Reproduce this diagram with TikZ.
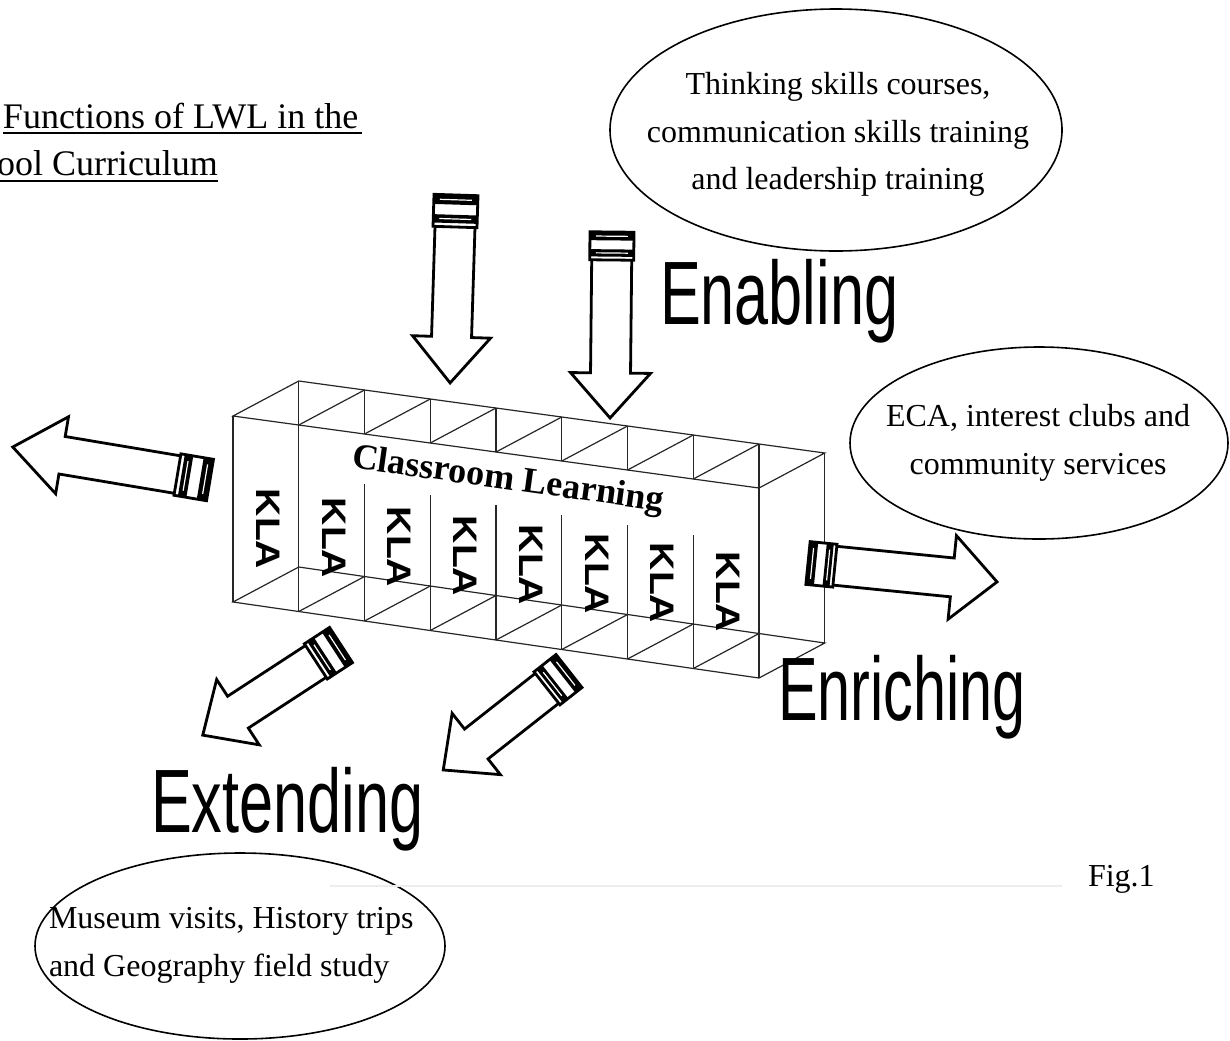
\documentclass[tikz,border=0pt]{standalone}
\usepackage{fontspec}
\usepackage{graphicx}
\usetikzlibrary{shapes.geometric}
\setmainfont{Liberation Serif}
\newfontfamily\headfont{Liberation Sans}

% block arrow: {tail}{angle}{length}{shaft half width}{head half width}{head length}{cap length}
\newcommand{\blockarrow}[7]{%
\begin{scope}[shift={#1}, rotate=#2]
\draw [arrowline] (#7,#4) -- (#3-#6,#4) -- (#3-#6,#5) -- (#3,0) -- (#3-#6,-#5) -- (#3-#6,-#4) -- (#7,-#4);
\draw [arrowline] (0,-#4-2) rectangle (#7,#4+2);
\fill (0,-#4-2) rectangle (0.3*#7,#4+2);
\fill (0.62*#7,-#4-2) rectangle (0.88*#7,#4+2);
\draw [white, line width=0.6pt] (0.15*#7,-#4+4) -- (0.15*#7,#4-4);
\draw [white, line width=0.6pt] (0.75*#7,-#4+4) -- (0.75*#7,#4-4);
\end{scope}}

\begin{document}
\begin{tikzpicture}[x=0.5pt,y=-0.5pt]
\tikzset{ inner sep=0pt, outer sep=0pt,
  boxline/.style={black!85, line width=0.6pt},
  arrowline/.style={line width=1.4pt, fill=white},
  bubble/.style={draw, ellipse, line width=0.8pt},
  bubbletext/.style={align=center, font=\fontsize{16}{23.75}\selectfont},
  heading/.style={anchor=base west, font=\headfont\fontsize{45}{45}\selectfont},
  kla/.style={rotate=-90, font=\headfont\bfseries\fontsize{17}{17}\selectfont},
  uline/.style={line width=1.2pt},
}
\useasboundingbox (0,0) rectangle (1230,1040);
\clip (0,0) rectangle (1230,1040);
%\draw [lightgray, dashed] (0,0) grid[step=100] (1230,1040);

% box corners: F front top, B back top, G front bottom, H back bottom
\coordinate (F0) at (233,416);
\coordinate (F1) at (298.75,425);
\coordinate (F2) at (364.5,434);
\coordinate (F3) at (430.25,443);
\coordinate (F4) at (496,452);
\coordinate (F5) at (561.75,461);
\coordinate (F6) at (627.5,470);
\coordinate (F7) at (693.25,479);
\coordinate (F8) at (759,488);

\coordinate (B0) at (298.75,381);
\coordinate (B1) at (364.5,390);
\coordinate (B2) at (430.25,399);
\coordinate (B3) at (496,408);
\coordinate (B4) at (561.75,417);
\coordinate (B5) at (627.5,426);
\coordinate (B6) at (693.25,435);
\coordinate (B7) at (759,444);
\coordinate (B8) at (824.75,453);

\coordinate (G0) at (233,602);
\coordinate (G1) at (298.75,611.5);
\coordinate (G2) at (364.5,621);
\coordinate (G3) at (430.25,630.5);
\coordinate (G4) at (496,640);
\coordinate (G5) at (561.75,649.5);
\coordinate (G6) at (627.5,659);
\coordinate (G7) at (693.25,668.5);
\coordinate (G8) at (759,678);

\coordinate (H0) at (298.75,567);
\coordinate (H1) at (364.5,576.5);
\coordinate (H2) at (430.25,586);
\coordinate (H3) at (496,595.5);
\coordinate (H4) at (561.75,605);
\coordinate (H5) at (627.5,614.5);
\coordinate (H6) at (693.25,624);
\coordinate (H7) at (759,633.5);
\coordinate (H8) at (824.75,643);

% dividers start again under the label
\coordinate (S2) at (364.5,484);
\coordinate (S3) at (430.25,495);
\coordinate (S4) at (496,505);
\coordinate (S5) at (561.75,515);
\coordinate (S6) at (627.5,525);
\coordinate (S7) at (693.25,535);

% top face
\draw [boxline] (F0) -- (F8) -- (B8) -- (B0) -- cycle;
\draw [boxline] (F1) -- (B1);
\draw [boxline] (F2) -- (B2);
\draw [boxline] (F3) -- (B3);
\draw [boxline] (F4) -- (B4);
\draw [boxline] (F5) -- (B5);
\draw [boxline] (F6) -- (B6);
\draw [boxline] (F7) -- (B7);

% bottom face
\draw [boxline] (G0) -- (G8) -- (H8) -- (H0) -- cycle;
\draw [boxline] (G1) -- (H1);
\draw [boxline] (G2) -- (H2);
\draw [boxline] (G3) -- (H3);
\draw [boxline] (G4) -- (H4);
\draw [boxline] (G5) -- (H5);
\draw [boxline] (G6) -- (H6);
\draw [boxline] (G7) -- (H7);

% uprights
\draw [boxline] (F0) -- (G0);
\draw [boxline] (B0) -- (G1);
\draw [boxline] (B1) -- (F2);  \draw [boxline] (S2) -- (G2);
\draw [boxline] (B2) -- (F3);  \draw [boxline] (S3) -- (G3);
\draw [boxline] (B3) -- (F4);  \draw [boxline] (S4) -- (G4);
\draw [boxline] (B4) -- (F5);  \draw [boxline] (S5) -- (G5);
\draw [boxline] (B5) -- (F6);  \draw [boxline] (S6) -- (G6);
\draw [boxline] (B6) -- (F7);  \draw [boxline] (S7) -- (G7);
\draw [boxline] (B7) -- (G8);
\draw [boxline] (B8) -- (H8);

\node [font=\bfseries\fontsize{18}{18}\selectfont, rotate=-8] (CL) at (508,481) {Classroom Learning};

\node [kla] (K1) at (268,529) {\scalebox{1.15}[1]{KLA}};
\node [kla] (K2) at (333.75,538) {\scalebox{1.15}[1]{KLA}};
\node [kla] (K3) at (399.5,547) {\scalebox{1.15}[1]{KLA}};
\node [kla] (K4) at (465.25,556) {\scalebox{1.15}[1]{KLA}};
\node [kla] (K5) at (531,565) {\scalebox{1.15}[1]{KLA}};
\node [kla] (K6) at (596.75,574) {\scalebox{1.15}[1]{KLA}};
\node [kla] (K7) at (662.5,583) {\scalebox{1.15}[1]{KLA}};
\node [kla] (K8) at (728.25,592) {\scalebox{1.15}[1]{KLA}};

% arrows
\blockarrow{(456,195)}{-91.8}{188}{20}{39}{46}{32}
\blockarrow{(612,232)}{-90.6}{186}{20}{40}{45}{28}
\blockarrow{(210,480)}{170.5}{200}{19}{39}{50}{33}
\blockarrow{(808,563)}{-5.7}{190}{19.5}{42}{45}{27}
\blockarrow{(341,645)}{-146.9}{165}{19}{39}{42}{30}
\blockarrow{(569,671)}{-141.8}{160}{19}{39}{42}{28}

\node [heading] (EN) at (660,324) {\scalebox{0.68}[1]{Enabling}};
\node [heading] (ER) at (778,720) {\scalebox{0.66}[1]{Enriching}};
\node [heading] (EX) at (151,832) {\scalebox{0.68}[1]{Extending}};

% bubbles
\node [bubble, minimum width=226pt, minimum height=121pt] (E1) at (836,130) {};
\node [bubble, minimum width=189pt, minimum height=96pt] (E2) at (1039,443) {};
\node [bubble, minimum width=205pt, minimum height=93pt] (E3) at (240,946) {};

\node [bubbletext] (T1) at (838,134.5) {Thinking skills courses,\\communication skills training\\and leadership training};
\node [bubbletext] (T2) at (1038,443) {ECA, interest clubs and\\community services};
\node [bubbletext, align=left, anchor=west] (T3) at (49,945.5) {Museum visits, History trips\\and Geography field study};

% title
\node [anchor=base west, font=\fontsize{18}{18}\selectfont] (TA) at (3,128) {Functions of LWL in the};
\node [anchor=base west, font=\fontsize{18}{18}\selectfont] (TB) at (-3,175) {ool Curriculum};
\draw [uline] ([yshift=-2.5pt]TA.base west) -- ([xshift=2pt,yshift=-2.5pt]TA.base east);
\draw [uline] ([yshift=-3pt]TB.base west) -- ([yshift=-3pt]TB.base east);

\draw [black!7, line width=0.8pt] (330,886) -- (1062,886);

\node [anchor=base west, font=\fontsize{16}{16}\selectfont] (FIG) at (1088,886) {Fig.1};

\end{tikzpicture}
\end{document}
